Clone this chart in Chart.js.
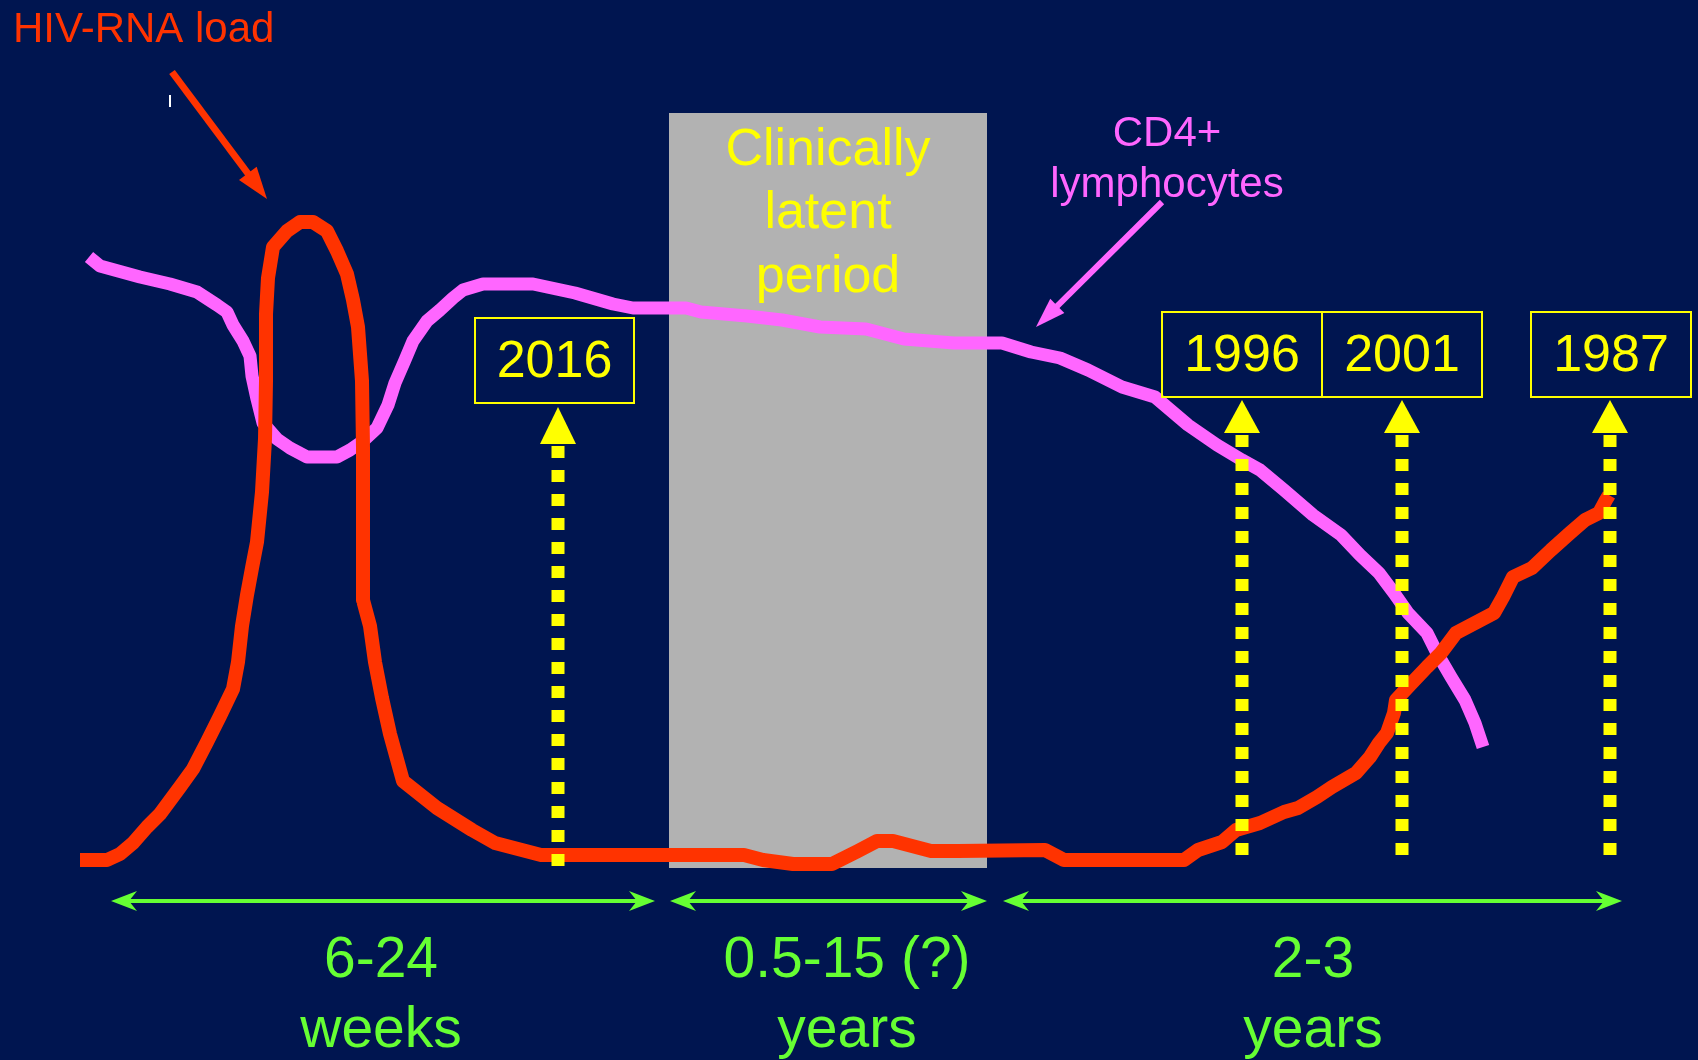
<!DOCTYPE html>
<html><head><meta charset="utf-8">
<script src="https://cdn.jsdelivr.net/npm/chart.js@4.4.1/dist/chart.umd.min.js"></script>
<style>html,body{margin:0;padding:0;background:#001550;overflow:hidden}canvas{display:block}</style>
</head><body>
<canvas id="c" width="1698" height="1060"></canvas>
<script>
// ---- data (x: time axis units, y: level units, reversed so larger = lower) ----
const rnaX = [80,107,120,133,147,160,180,193,207,220,233,238,242,247,252,257,262,265,266,266,268,273,287,300,313,327,337,347,353,358,362,363,363,370,375,382,390,403,437,472,495,541,744,763,793,832,858,877,893,931,958,1045,1064,1184,1198,1222,1236,1260,1284,1298,1317,1332,1356,1370,1379,1387,1394,1396,1408,1427,1441,1456,1475,1494,1503,1513,1532,1551,1570,1585,1599,1606,1609];
const rnaY = [860,860,854,843,827,814,787,769,742,716,689,662,626,595,568,542,492,439,381,314,278,247,231,222,222,231,251,274,300,327,381,448,600,626,662,698,734,781,808,830,843,855,855,860,864,864,851,841,841,851,851,850,860,860,850,842,830,823,812,808,797,787,773,757,743,733,713,700,687,667,653,633,623,613,597,577,568,550,533,520,513,500,495];
const cd4X = [89,100,140,170,197,217,227,233,243,250,252,257,263,277,290,307,337,350,363,377,388,395,405,413,427,440,453,463,483,533,575,613,633,686,701,747,782,820,866,904,954,1002,1031,1060,1088,1122,1155,1188,1217,1242,1260,1284,1313,1341,1360,1379,1394,1408,1427,1437,1451,1465,1475,1483];
const cd4Y = [257,266,277,284,292,305,312,325,341,356,376,399,423,439,448,457,457,450,441,428,405,383,360,341,321,310,298,290,284,284,293,304,308,308,312,316,320,327,329,339,343,343,352,358,370,387,397,425,445,460,470,490,515,535,555,573,593,613,633,653,677,700,723,747];

const markerLabels = ['2016','1996','2001','1987'];
const markerX = [558,1242,1402,1610];
const phaseTop = ['6-24','0.5-15 (?)','2-3'];
const phaseBottom = ['weeks','years','years'];
const phaseFrom = [111,670,1003];
const phaseTo = [655,987,1622];

// ---- layout / style ----
const BG = '#001550', RED = '#FF3300', PINK = '#FF66FF', YEL = '#FFFF00', GREEN = '#66FF33', GRAY = '#B2B2B2';
const FONT = '"Liberation Sans", Arial, Helvetica, sans-serif';
const markerTip = [407, 400, 400, 400];
const markerBase = [444, 433, 433, 433];
const dotTop = [446, 435, 435, 435];
const dotBottom = [866, 855, 855, 855];
const boxes = [[475,318,634,403],[1162,312,1322,397],[1322,312,1482,397],[1531,312,1691,397]];
const latent = {x0:669, x1:987, y0:113, y1:868};

const dotted = markerX.map((x,i)=>({
  data:[{x:x,y:dotTop[i]},{x:x,y:dotBottom[i]}],
  borderColor:YEL, borderWidth:13, borderDash:[12,12], borderCapStyle:'butt',
  pointRadius:0, order:0, showLine:true
}));

function P(chart,x,y){return [chart.scales.x.getPixelForValue(x), chart.scales.y.getPixelForValue(y)];}
function arrowHead(ctx, tx, ty, fx, fy, len, half, color){
  const a = Math.atan2(ty-fy, tx-fx);
  ctx.save(); ctx.fillStyle=color; ctx.beginPath();
  ctx.moveTo(tx,ty);
  ctx.lineTo(tx-len*Math.cos(a)+half*Math.sin(a), ty-len*Math.sin(a)-half*Math.cos(a));
  ctx.lineTo(tx-len*Math.cos(a)-half*Math.sin(a), ty-len*Math.sin(a)+half*Math.cos(a));
  ctx.closePath(); ctx.fill(); ctx.restore();
}
function lineArrow(ctx, chart, x0,y0,x1,y1,w,len,half,color){
  const [a,b]=P(chart,x0,y0), [c,d]=P(chart,x1,y1);
  const ang=Math.atan2(d-b,c-a);
  ctx.save(); ctx.strokeStyle=color; ctx.lineWidth=w; ctx.lineCap='butt';
  ctx.beginPath(); ctx.moveTo(a,b); ctx.lineTo(c-(len-2)*Math.cos(ang), d-(len-2)*Math.sin(ang)); ctx.stroke(); ctx.restore();
  arrowHead(ctx,c,d,a,b,len,half,color);
}
function barb(ctx, tx, ty, dir, color){
  ctx.save(); ctx.fillStyle=color; ctx.beginPath();
  ctx.moveTo(tx,ty);
  ctx.lineTo(tx-dir*26, ty-10);
  ctx.lineTo(tx-dir*18, ty);
  ctx.lineTo(tx-dir*26, ty+10);
  ctx.closePath(); ctx.fill(); ctx.restore();
}

const deco = {
  id:'deco',
  beforeDraw(chart){
    const ctx=chart.ctx; ctx.save(); ctx.fillStyle=BG; ctx.fillRect(0,0,chart.width,chart.height); ctx.restore();
  },
  beforeDatasetsDraw(chart){
    const ctx=chart.ctx;
    const [x0,y0]=P(chart,latent.x0,latent.y0), [x1,y1]=P(chart,latent.x1,latent.y1);
    ctx.save(); ctx.fillStyle=GRAY; ctx.fillRect(x0,y0,x1-x0,y1-y0);
    ctx.fillStyle=YEL; ctx.font='52px '+FONT; ctx.textAlign='center'; ctx.textBaseline='alphabetic';
    const cx=(x0+x1)/2;
    ctx.fillText('Clinically',cx,P(chart,0,165)[1]);
    ctx.fillText('latent',cx,P(chart,0,228)[1]);
    ctx.fillText('period',cx,P(chart,0,292)[1]);
    ctx.restore();
  },
  afterDatasetsDraw(chart){
    const ctx=chart.ctx;
    // marker arrowheads, boxes and labels
    markerX.forEach((x,i)=>{
      const [px,tip]=P(chart,x,markerTip[i]); const base=P(chart,x,markerBase[i])[1];
      ctx.save(); ctx.fillStyle=YEL; ctx.beginPath(); ctx.moveTo(px,tip); ctx.lineTo(px-18,base); ctx.lineTo(px+18,base); ctx.closePath(); ctx.fill(); ctx.restore();
      const b=boxes[i]; const [bx0,by0]=P(chart,b[0],b[1]), [bx1,by1]=P(chart,b[2],b[3]);
      ctx.save(); ctx.strokeStyle=YEL; ctx.lineWidth=2; ctx.strokeRect(bx0,by0,bx1-bx0,by1-by0);
      ctx.fillStyle=YEL; ctx.font='52px '+FONT; ctx.textAlign='center'; ctx.textBaseline='middle';
      ctx.fillText(markerLabels[i],(bx0+bx1)/2,(by0+by1)/2+2); ctx.restore();
    });
    // phase double arrows and labels
    const gy=P(chart,0,901)[1];
    phaseFrom.forEach((f,i)=>{
      const a=P(chart,f,0)[0], b=P(chart,phaseTo[i],0)[0];
      ctx.save(); ctx.strokeStyle=GREEN; ctx.lineWidth=4; ctx.beginPath(); ctx.moveTo(a+18,gy); ctx.lineTo(b-18,gy); ctx.stroke(); ctx.restore();
      barb(ctx,a,gy,-1,GREEN); barb(ctx,b,gy,1,GREEN);
    });
    const labelX=[381,847,1313];
    ctx.save(); ctx.fillStyle=GREEN; ctx.font='57px '+FONT; ctx.textAlign='center'; ctx.textBaseline='alphabetic';
    phaseTop.forEach((t,i)=>{
      const px=P(chart,labelX[i],0)[0];
      ctx.fillText(t,px,P(chart,0,977)[1]);
      ctx.fillText(phaseBottom[i],px,P(chart,0,1047)[1]);
    });
    ctx.restore();
    // titles
    ctx.save(); ctx.fillStyle=RED; ctx.font='42px '+FONT; ctx.textAlign='left'; ctx.textBaseline='alphabetic';
    ctx.fillText('HIV-RNA load',P(chart,13,0)[0],P(chart,0,42)[1]);
    ctx.fillStyle=PINK; ctx.font='42px '+FONT; ctx.textAlign='center';
    const cdx=P(chart,1167,0)[0];
    ctx.fillText('CD4+',cdx,P(chart,0,146)[1]);
    ctx.fillText('lymphocytes',cdx,P(chart,0,197)[1]);
    ctx.restore();
    lineArrow(ctx,chart,172,72,267,199,7,32,11,RED);
    lineArrow(ctx,chart,1162,202,1036,327,6,30,10,PINK);
    // small white tick
    const [wx,wy0]=P(chart,170,95), wy1=P(chart,0,107)[1];
    ctx.save(); ctx.strokeStyle='#FFFFFF'; ctx.lineWidth=2; ctx.beginPath(); ctx.moveTo(wx,wy0); ctx.lineTo(wx,wy1); ctx.stroke(); ctx.restore();
  }
};

new Chart(document.getElementById('c'),{
  type:'scatter',
  data:{datasets:[
    ...dotted,
    {label:'HIV-RNA load', data:rnaX.map((x,i)=>({x:x,y:rnaY[i]})), borderColor:RED, borderWidth:14, showLine:true, pointRadius:0, tension:0, borderJoinStyle:'round', borderCapStyle:'butt', order:1},
    {label:'CD4+ lymphocytes', data:cd4X.map((x,i)=>({x:x,y:cd4Y[i]})), borderColor:PINK, borderWidth:13, showLine:true, pointRadius:0, tension:0, borderJoinStyle:'round', borderCapStyle:'butt', order:2}
  ]},
  options:{
    responsive:false, animation:false, devicePixelRatio:1,
    layout:{padding:0},
    scales:{
      x:{type:'linear', min:0, max:1698, display:false},
      y:{type:'linear', min:0, max:1060, reverse:true, display:false}
    },
    plugins:{legend:{display:false}, tooltip:{enabled:false}},
    elements:{line:{borderJoinStyle:'round'}}
  },
  plugins:[deco]
});
</script>
</body></html>
